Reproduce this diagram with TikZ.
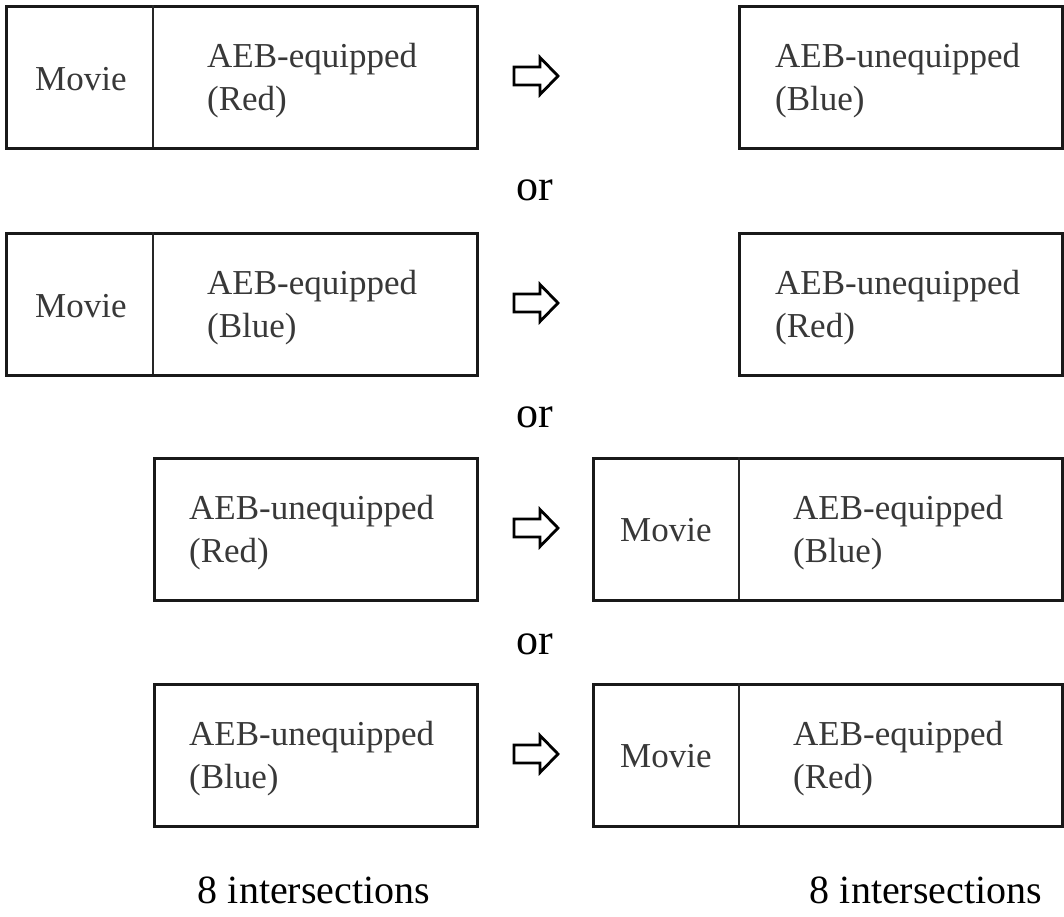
\documentclass[tikz,border=0pt]{standalone}
\usepackage{fontspec}
\setmainfont{Liberation Serif}
\begin{document}
\begin{tikzpicture}[x=1pt,y=-1pt,
  box/.style={draw=black!90,line width=2.6pt,rectangle,inner sep=0pt,anchor=north west},
  divider/.style={draw=black!85,line width=2.2pt},
  lbl/.style={anchor=base west,inner sep=0pt,text=black!78,align=left,font=\fontsize{35}{43}\selectfont},
  ortext/.style={inner sep=0pt,text=black,font=\fontsize{44}{50}\selectfont},
  foot/.style={anchor=base,inner sep=0pt,text=black,font=\fontsize{40}{46}\selectfont},
  arr/.style={draw=black,line width=2.8pt,fill=white,line join=miter}
]
\useasboundingbox (0,0) rectangle (1064,916);
\def\arrowat#1#2{\draw[arr] (#1-21,#2-9) -- (#1+5,#2-9) -- (#1+5,#2-18.5) -- (#1+23,#2) -- (#1+5,#2+18.5) -- (#1+5,#2+9) -- (#1-21,#2+9) -- cycle;}
% Row 1
\node[box,minimum width=471pt,minimum height=142pt] (b1l) at (5,5) {};
\coordinate (d1t) at (153,5); \coordinate (d1b) at (153,147);
\draw[divider] (d1t) -- (d1b);
\node[lbl] (m1) at (35,90) {Movie};
\node[lbl] (t1l) at (207,110) {AEB-equipped\\(Red)};
\node[box,minimum width=323pt,minimum height=142pt] (b1r) at (738,5) {};
\node[lbl] (t1r) at (775,110) {AEB-unequipped\\(Blue)};
\arrowat{535}{76}
\node[ortext] (or1) at (535,190) {or};
% Row 2
\node[box,minimum width=471pt,minimum height=142pt] (b2l) at (5,232) {};
\coordinate (d2t) at (153,232); \coordinate (d2b) at (153,374);
\draw[divider] (d2t) -- (d2b);
\node[lbl] (m2) at (35,317) {Movie};
\node[lbl] (t2l) at (207,337) {AEB-equipped\\(Blue)};
\node[box,minimum width=323pt,minimum height=142pt] (b2r) at (738,232) {};
\node[lbl] (t2r) at (775,337) {AEB-unequipped\\(Red)};
\arrowat{535}{303}
\node[ortext] (or2) at (535,417) {or};
% Row 3
\node[box,minimum width=323pt,minimum height=142pt] (b3l) at (153,457) {};
\node[lbl] (t3l) at (189,562) {AEB-unequipped\\(Red)};
\node[box,minimum width=469pt,minimum height=142pt] (b3r) at (592,457) {};
\coordinate (d3t) at (739,457); \coordinate (d3b) at (739,599);
\draw[divider] (d3t) -- (d3b);
\node[lbl] (m3) at (620,541) {Movie};
\node[lbl] (t3r) at (793,562) {AEB-equipped\\(Blue)};
\arrowat{535}{528}
\node[ortext] (or3) at (535,644) {or};
% Row 4
\node[box,minimum width=323pt,minimum height=142pt] (b4l) at (153,683) {};
\node[lbl] (t4l) at (189,788) {AEB-unequipped\\(Blue)};
\node[box,minimum width=469pt,minimum height=142pt] (b4r) at (592,683) {};
\coordinate (d4t) at (739,683); \coordinate (d4b) at (739,825);
\draw[divider] (d4t) -- (d4b);
\node[lbl] (m4) at (620,767) {Movie};
\node[lbl] (t4r) at (793,788) {AEB-equipped\\(Red)};
\arrowat{535}{754}
% Footer
\node[foot] (f1) at (314,903) {8 intersections};
\node[foot] (f2) at (926,903) {8 intersections};
\end{tikzpicture}
\end{document}
